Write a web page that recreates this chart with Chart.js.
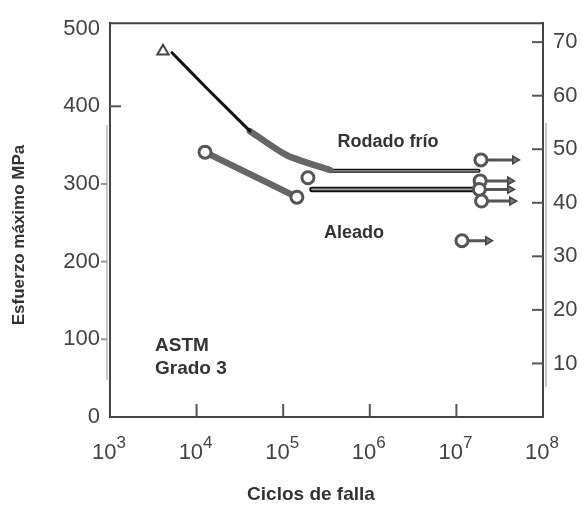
<!DOCTYPE html>
<html>
<head>
<meta charset="utf-8">
<script src="https://cdn.jsdelivr.net/npm/chart.js@4.4.1/dist/chart.umd.min.js"></script>
<style>
html, body { margin: 0; padding: 0; background: #fff; }
</style>
</head>
<body>
<canvas id="snChart" width="582" height="508"></canvas>
<script>
const CYCLE_TICKS = [1e3, 1e4, 1e5, 1e6, 1e7, 1e8];
const CYCLE_EXPONENTS = ['3', '4', '5', '6', '7', '8'];
const MPA_TICKS = [0, 100, 200, 300, 400, 500];
const KSI_TICKS = [10, 20, 30, 40, 50, 60, 70];
const MPA_PER_KSI = 6.895;
const MPA_MAX = 507;

// Rodado frio
const rolledStartCycles = [4090];
const rolledStartStress = [471];
const rolledCycles = [5200, 13200, 41400];
const rolledStress = [469, 423, 368];
const rolledScatterCycles = [41400, 110000, 347000];
const rolledScatterStress = [368, 337, 318];
const rolledLimitCycles = [347000, 1.8e7];
const rolledLimitStress = [317, 317];

// curva inferior
const lowerScatterCycles = [12500, 144000];
const lowerScatterStress = [341, 283];
const lowerPointCycles = [12500, 144000, 193000];
const lowerPointStress = [341, 283, 308];
const lowerLimitCycles = [215000, 1.7e7];
const lowerLimitStress = [293, 293];

// puntos sin falla (runouts) con flecha
const runoutCycles = [1.92e7, 1.88e7, 1.84e7, 1.95e7, 1.16e7];
const runoutStress = [331, 304, 293, 278, 227];
const runoutArrowCycles = [4.75e7, 4.16e7, 4.16e7, 4.39e7, 2.32e7];

const FONT = '"Liberation Sans", Arial, sans-serif';

const pts = (xs, ys) => xs.map((x, i) => ({ x: x, y: ys[i] }));

function lineSet(data, color, width, order) {
    return {
        data: data,
        showLine: true,
        borderColor: color,
        borderWidth: width,
        borderCapStyle: 'round',
        pointRadius: 0,
        tension: 0.25,
        order: order
    };
}

const arrowSets = runoutCycles.map((c, i) => ({
    data: [{ x: c, y: runoutStress[i] }, { x: runoutArrowCycles[i], y: runoutStress[i] }],
    showLine: true,
    borderColor: '#555',
    borderWidth: 3,
    pointStyle: 'triangle',
    pointRotation: 90,
    pointRadius: [0, 4.5],
    pointBackgroundColor: '#777',
    pointBorderColor: '#444',
    pointBorderWidth: 1.5,
    order: 3
}));

const decorPlugin = {
    id: 'decor',
    afterDraw(chart) {
        const ctx = chart.ctx;
        const area = chart.chartArea;
        const xs = chart.scales.x;
        const ys = chart.scales.y;
        const y2 = chart.scales.y2;
        ctx.save();

        // marco superior
        ctx.strokeStyle = '#444';
        ctx.lineWidth = 2;
        ctx.beginPath();
        ctx.moveTo(area.left - 1, area.top);
        ctx.lineTo(area.right + 1, area.top);
        ctx.stroke();

        // sombra del escaneo junto a los ejes
        ctx.fillStyle = 'rgba(0,0,0,0.22)';
        ctx.fillRect(area.left - 4, 125, 2, 255);
        ctx.fillRect(area.right + 2, 123, 2, 264);

        // marcas del eje x
        ctx.strokeStyle = '#555';
        ctx.lineWidth = 2;
        CYCLE_TICKS.slice(1, -1).forEach(v => {
            const px = xs.getPixelForValue(v);
            ctx.beginPath();
            ctx.moveTo(px, area.bottom);
            ctx.lineTo(px, area.bottom - 13);
            ctx.stroke();
        });

        // marcas eje izquierdo
        MPA_TICKS.slice(1, -1).forEach(v => {
            const py = ys.getPixelForValue(v);
            ctx.beginPath();
            if (v === 400) {
                ctx.strokeStyle = '#555';
                ctx.moveTo(area.left, py);
                ctx.lineTo(area.left + 11, py);
            } else {
                ctx.strokeStyle = '#999';
                ctx.moveTo(area.left - 9, py);
                ctx.lineTo(area.left - 3, py);
            }
            ctx.stroke();
        });

        // marcas eje derecho
        ctx.strokeStyle = '#555';
        KSI_TICKS.forEach(v => {
            const py = y2.getPixelForValue(v);
            ctx.beginPath();
            ctx.moveTo(area.right - 11, py);
            ctx.lineTo(area.right, py);
            ctx.stroke();
        });

        // etiquetas 10^n
        ctx.fillStyle = '#444';
        ctx.textBaseline = 'alphabetic';
        ctx.textAlign = 'left';
        CYCLE_TICKS.forEach((v, i) => {
            const px = xs.getPixelForValue(v);
            ctx.font = '22px ' + FONT;
            const w10 = ctx.measureText('10').width;
            ctx.font = '17px ' + FONT;
            const wExp = ctx.measureText(CYCLE_EXPONENTS[i]).width;
            const start = px - (w10 + wExp) / 2 - 1;
            ctx.font = '22px ' + FONT;
            ctx.fillText('10', start, 459);
            ctx.font = '17px ' + FONT;
            ctx.fillText(CYCLE_EXPONENTS[i], start + w10, 448);
        });

        // titulos de ejes
        ctx.fillStyle = '#333';
        ctx.textAlign = 'center';
        ctx.textBaseline = 'middle';
        ctx.font = 'bold 19px ' + FONT;
        ctx.fillText('Ciclos de falla', 311, 495);

        ctx.save();
        ctx.translate(19, 235);
        ctx.rotate(-Math.PI / 2);
        ctx.font = 'bold 17px ' + FONT;
        ctx.fillText('Esfuerzo máximo MPa', 0, 0);
        ctx.restore();

        // anotaciones
        ctx.font = 'bold 18px ' + FONT;
        ctx.fillText('Rodado frío', 388, 142);
        ctx.fillText('Aleado', 354, 233);
        ctx.textAlign = 'left';
        ctx.font = 'bold 19px ' + FONT;
        ctx.fillText('ASTM', 155, 346);
        ctx.fillText('Grado 3', 155, 369);

        ctx.restore();
    }
};

const ctx = document.getElementById('snChart').getContext('2d');
const snChart = new Chart(ctx, {
    type: 'scatter',
    data: {
        datasets: [
            {
                data: pts(rolledStartCycles, rolledStartStress),
                pointStyle: 'triangle',
                pointRadius: 6.5,
                pointBorderColor: '#444',
                pointBorderWidth: 2,
                pointBackgroundColor: '#fff',
                order: 0
            },
            {
                data: pts(lowerPointCycles.concat(runoutCycles), lowerPointStress.concat(runoutStress)),
                pointStyle: 'circle',
                pointRadius: 6,
                pointBorderColor: '#555',
                pointBorderWidth: 3,
                pointBackgroundColor: '#fff',
                order: 1
            },
            lineSet(pts(rolledCycles, rolledStress), '#111', 3, 4),
            lineSet(pts(rolledScatterCycles, rolledScatterStress), '#666', 6.5, 4),
            lineSet(pts(lowerScatterCycles, lowerScatterStress), '#666', 6.5, 4),
            lineSet(pts(rolledLimitCycles, rolledLimitStress), '#aaa', 1.2, 5),
            lineSet(pts(rolledLimitCycles, rolledLimitStress), '#111', 4, 6),
            lineSet(pts(lowerLimitCycles, lowerLimitStress), '#aaa', 1.6, 5),
            lineSet(pts(lowerLimitCycles, lowerLimitStress), '#111', 5.5, 6),
            ...arrowSets
        ]
    },
    options: {
        responsive: false,
        animation: false,
        devicePixelRatio: 1,
        layout: { padding: { top: 15, left: 0, right: 0, bottom: 0 } },
        plugins: { legend: { display: false }, tooltip: { enabled: false } },
        scales: {
            x: {
                type: 'logarithmic',
                min: 1e3,
                max: 1e8,
                ticks: { display: false },
                grid: { display: false, drawTicks: false },
                border: { display: true, color: '#444', width: 2 },
                afterFit: s => { s.height = 91; }
            },
            y: {
                position: 'left',
                min: 0,
                max: MPA_MAX,
                afterBuildTicks: s => { s.ticks = MPA_TICKS.map(v => ({ value: v })); },
                ticks: { color: '#444', padding: 10, font: { family: FONT, size: 22 } },
                grid: { display: false, drawTicks: false },
                border: { display: true, color: '#444', width: 2 },
                afterFit: s => { s.width = 110; }
            },
            y2: {
                position: 'right',
                min: 0,
                max: MPA_MAX / MPA_PER_KSI,
                afterBuildTicks: s => { s.ticks = KSI_TICKS.map(v => ({ value: v })); },
                ticks: { color: '#444', padding: 10, font: { family: FONT, size: 22 } },
                grid: { display: false, drawTicks: false },
                border: { display: true, color: '#444', width: 2 },
                afterFit: s => { s.width = 39; }
            }
        }
    },
    plugins: [decorPlugin]
});
</script>
</body>
</html>
